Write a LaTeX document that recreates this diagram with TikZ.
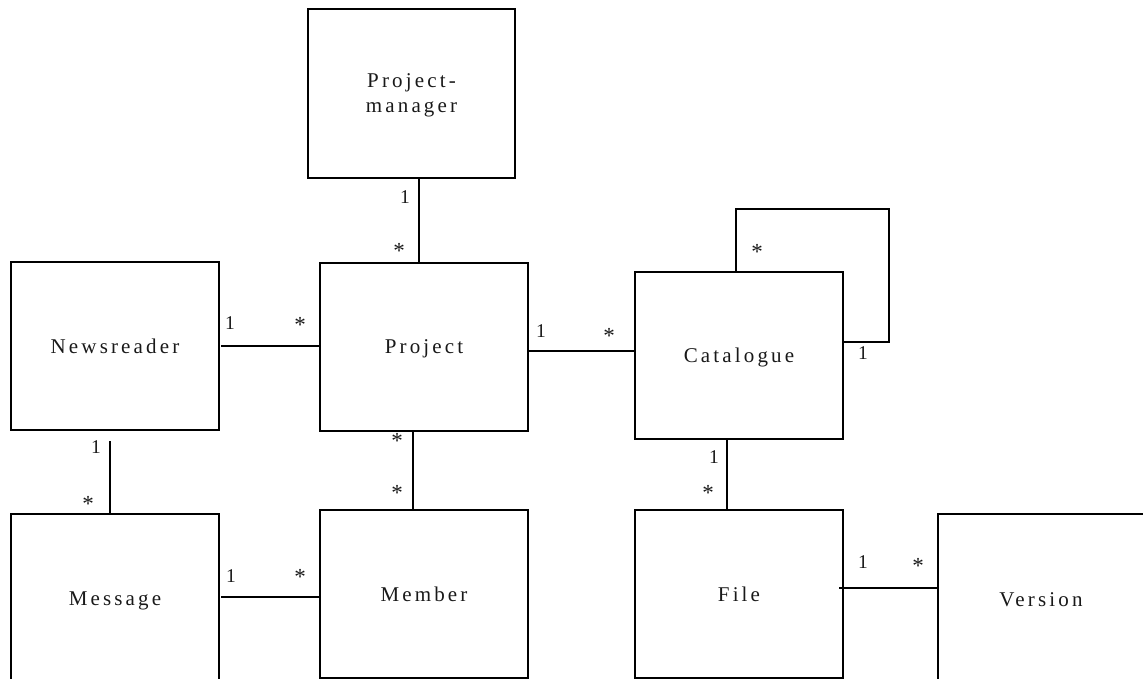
\documentclass[tikz,border=0pt]{standalone}
\usepackage{fontspec}
\setmainfont{Liberation Serif}
\newfontfamily\classfont{Liberation Serif}[LetterSpace=15]
\begin{document}
\begin{tikzpicture}[x=1pt,y=-1pt,
  classbox/.style={draw=black,line width=1.1pt,rectangle,outer sep=0pt,inner sep=0pt,
    minimum width=208pt,minimum height=168pt,align=center,text depth=0pt,
    font=\classfont\fontsize{21}{25}\selectfont,text=black!90},
  assoc/.style={draw=black,line width=1.1pt},
  one/.style={font=\fontsize{19.5}{22}\selectfont,inner sep=0pt,text=black!90},
  many/.style={font=\fontsize{23}{25}\selectfont,inner sep=0pt,yshift=-3.6pt,text=black!90}]
\useasboundingbox (0,0) rectangle (1143,679);
\clip (0,0) rectangle (1143,679);

% classes
\node[classbox,minimum width=207pt,minimum height=169pt] (pm) at (411.5,93.5) {Project-\\manager};
\node[classbox] (news) at (115,346) {Newsreader};
\node[classbox] (proj) at (424,347) {Project};
\node[classbox,minimum height=167pt] (cat) at (739,355.5) {Catalogue};
\node[classbox,minimum height=170pt] (msg) at (115,599) {Message};
\node[classbox] (mem) at (424,594) {Member};
\node[classbox] (file) at (739,594) {File};
\node[classbox,minimum width=206pt,minimum height=172pt] (ver) at (1041,600) {Version};

% associations
\coordinate (pmfoot) at ([xshift=7.5pt]pm.south);
\draw[assoc] (pmfoot) -- (pmfoot |- proj.north);

\coordinate (newsright) at ([xshift=2pt]news.east);
\draw[assoc] (newsright) -- (newsright -| proj.west);

\coordinate (projright) at ([yshift=-4pt]proj.east);
\draw[assoc] (projright) -- (projright -| cat.west);

\coordinate (newsfoot) at ([xshift=-5pt,yshift=-11pt]news.south);
\draw[assoc] (newsfoot) -- (newsfoot |- msg.north);

\coordinate (projfoot) at ([xshift=-11pt]proj.south);
\draw[assoc] (projfoot) -- (projfoot |- mem.north);

\coordinate (msgright) at ([xshift=2pt,yshift=2pt]msg.east);
\draw[assoc] (msgright) -- (msgright -| mem.west);

\coordinate (catfoot) at ([xshift=-12pt]cat.south);
\draw[assoc] (catfoot) -- (catfoot |- file.north);

\coordinate (fileright) at ([xshift=-4pt,yshift=6pt]file.east);
\draw[assoc] (fileright) -- (fileright -| ver.west);

% catalogue contains catalogues
\draw[assoc] ([xshift=-3pt]cat.north) -- ++(0,-63)
  -| ([xshift=46pt,yshift=13.5pt]cat.east) -- ([yshift=13.5pt]cat.east);

% multiplicities
\node[one]  (m1)  at (405,197) {1};
\node[many] (m2)  at (399,247) {*};
\node[one]  (m3)  at (230,323) {1};
\node[many] (m4)  at (300,321) {*};
\node[one]  (m5)  at (541,331) {1};
\node[many] (m6)  at (609,332) {*};
\node[many] (m7)  at (757,248) {*};
\node[one]  (m8)  at (863,353) {1};
\node[one]  (m9)  at (96,447)  {1};
\node[many] (m10) at (88,500)  {*};
\node[many] (m11) at (397,437) {*};
\node[many] (m12) at (397,489) {*};
\node[one]  (m13) at (231,576) {1};
\node[many] (m14) at (300,573) {*};
\node[one]  (m15) at (714,457) {1};
\node[many] (m16) at (708,489) {*};
\node[one]  (m17) at (863,562) {1};
\node[many] (m18) at (918,562) {*};
\end{tikzpicture}
\end{document}
